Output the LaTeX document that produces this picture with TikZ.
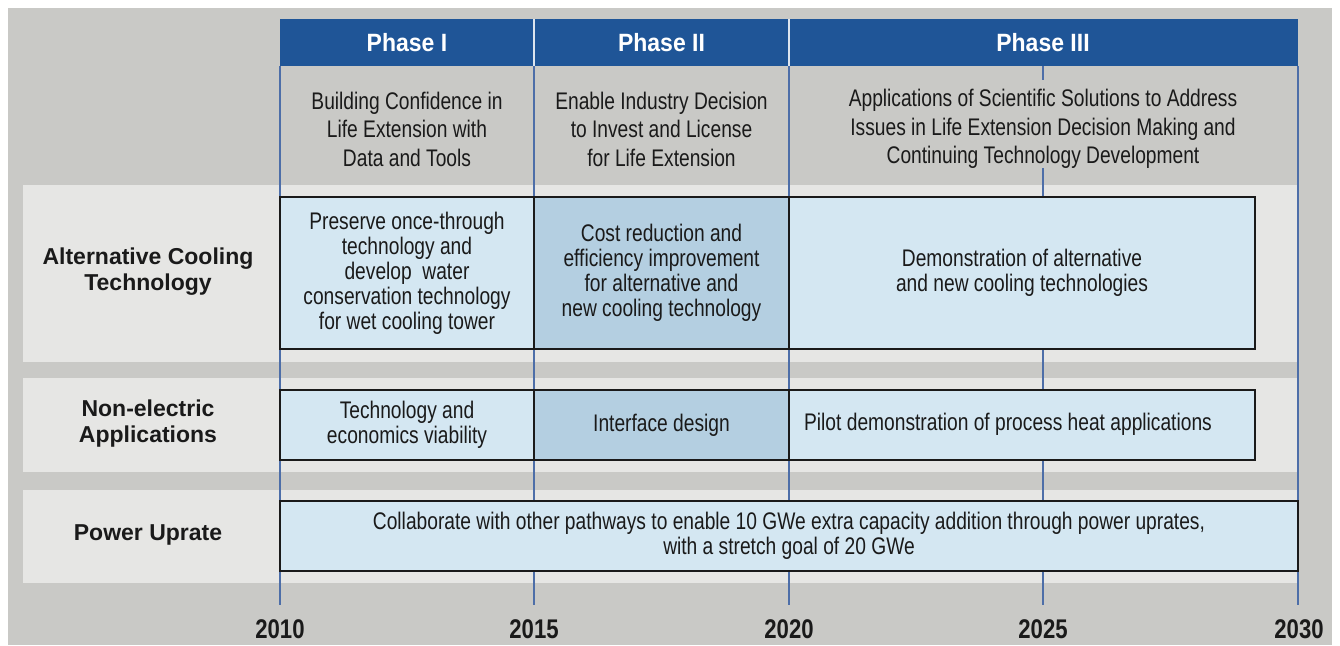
\documentclass[tikz,border=0pt]{standalone}
\usepackage{fontspec}
\setmainfont{Liberation Sans}
\newfontfamily\narrowfont{Liberation Sans}[FakeStretch=0.8]
\newfontfamily\yearfont{Liberation Sans}[FakeStretch=0.82]
\newfontfamily\titlefont{Liberation Sans}[FakeStretch=0.92]
\definecolor{outergray}{HTML}{C9C9C6}
\definecolor{bandgray}{HTML}{E6E6E4}
\definecolor{headblue}{HTML}{1F5597}
\definecolor{lineblue}{HTML}{4D6EA8}
\definecolor{cellblue}{HTML}{D4E7F2}
\definecolor{cellbluedark}{HTML}{B4CFE1}
\definecolor{inkblack}{HTML}{1A1A1A}
\tikzset{
  band/.style={fill=bandgray, draw=none},
  gridline/.style={draw=lineblue, line width=1.1pt},
  cell/.style={draw=inkblack, line width=2.2pt, fill=cellblue, inner sep=0pt,
    align=center, text=inkblack, font=\narrowfont\fontsize{24}{25}\selectfont},
  celldark/.style={cell, fill=cellbluedark},
  phasetitle/.style={text=white, font=\titlefont\bfseries\fontsize{25}{28}\selectfont, inner sep=0pt},
  phasedesc/.style={align=center, text=inkblack, inner sep=0pt,
    font=\narrowfont\fontsize{24}{28.5}\selectfont},
  rowlabel/.style={align=center, text=inkblack, inner sep=0pt,
    font=\bfseries\fontsize{23}{26}\selectfont},
  yearlabel/.style={text=inkblack, inner sep=0pt, font=\yearfont\bfseries\fontsize{27}{28}\selectfont}
}
\begin{document}
\begin{tikzpicture}[x=1pt, y=-1pt]
\useasboundingbox (0,0) rectangle (1340,645);
\fill[white] (0,0) rectangle (1340,645);
\fill[outergray] (8,8) rectangle (1332,645);
% row bands
\fill[band] (23,185) rectangle (1298,362);
\fill[band] (23,378) rectangle (1298,472);
\fill[band] (23,490) rectangle (1298,583);
% header bar
\fill[headblue] (280,19) rectangle (1298,66);
\draw[white!85!headblue, line width=1.2pt] (534,19) -- (534,66);
\draw[white!85!headblue, line width=1.2pt] (789,19) -- (789,66);
\node[phasetitle] (p1) at (407,43) {Phase I};
\node[phasetitle] (p2) at (661.5,43) {Phase II};
\node[phasetitle] (p3) at (1043,43) {Phase III};
% phase descriptions
\node[phasedesc] (d1) at (407,129) {Building Confidence in\\Life Extension with\\Data and Tools};
\node[phasedesc] (d2) at (661.5,129) {Enable Industry Decision\\to Invest and License\\for Life Extension};
\node[phasedesc] (d3) at (1043,129) {Applications of Scientific Solutions to Address\\Issues in Life Extension Decision Making and\\Continuing Technology Development};
% year labels
\node[yearlabel] (y2010) at (280,629) {2010};
\node[yearlabel] (y2015) at (534,629) {2015};
\node[yearlabel] (y2020) at (789,629) {2020};
\node[yearlabel] (y2025) at (1043,629) {2025};
\node[yearlabel] (y2030) at (1299,629) {2030};
% grid lines
\coordinate (t2010) at (280,66);  \coordinate (b2010) at (280,605);
\coordinate (t2015) at (534,66);  \coordinate (b2015) at (534,605);
\coordinate (t2020) at (789,66);  \coordinate (b2020) at (789,605);
\coordinate (t2025) at (1043,66); \coordinate (m2025) at (1043,80);
\coordinate (n2025) at (1043,168); \coordinate (b2025) at (1043,605);
\coordinate (t2030) at (1298,66); \coordinate (b2030) at (1298,605);
\draw[gridline] (t2010) -- (b2010);
\draw[gridline] (t2015) -- (b2015);
\draw[gridline] (t2020) -- (b2020);
\draw[gridline] (t2025) -- (m2025);
\draw[gridline] (n2025) -- (b2025);
\draw[gridline] (t2030) -- (b2030);
% row labels
\node[rowlabel] (r1) at (148,272) {Alternative Cooling\\Technology};
\node[rowlabel] (r2) at (148,424) {Non-electric\\Applications};
\node[rowlabel] (r3) at (148,535) {Power Uprate};
% row 1 cells
\node[cell, minimum width=254pt, minimum height=152pt] (c11) at (407,273)
  {Preserve once-through\\technology and\\develop\ \ water\\conservation technology\\for wet cooling tower};
\node[celldark, minimum width=255pt, minimum height=152pt] (c12) at (661.5,273)
  {Cost reduction and\\efficiency improvement\\for alternative and\\new cooling technology};
\node[cell, minimum width=466pt, minimum height=152pt] (c13) at (1022,273)
  {Demonstration of alternative\\and new cooling technologies};
% row 2 cells
\node[cell, minimum width=254pt, minimum height=70pt] (c21) at (407,425)
  {Technology and\\economics viability};
\node[celldark, minimum width=255pt, minimum height=70pt] (c22) at (661.5,425)
  {Interface design};
\node[cell, minimum width=466pt, minimum height=70pt] (c23) at (1022,425) {};
\node[inner sep=0pt, text=inkblack, font=\narrowfont\fontsize{24}{25}\selectfont] (c23t) at (1008,424)
  {Pilot demonstration of process heat applications};
% row 3 cell
\node[cell, minimum width=1018pt, minimum height=70pt] (c31) at (789,536)
  {Collaborate with other pathways to enable 10 GWe extra capacity addition through power uprates,\\with a stretch goal of 20 GWe};
\end{tikzpicture}
\end{document}
